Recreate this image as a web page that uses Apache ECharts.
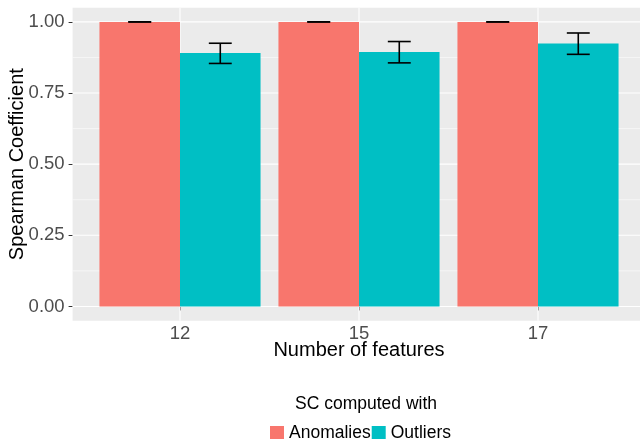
<!DOCTYPE html>
<html><head><meta charset="utf-8">
<script src="https://cdn.jsdelivr.net/npm/echarts@6/dist/echarts.min.js"></script>
<style>html,body{margin:0;padding:0;background:#fff}#c{width:640px;height:439px}</style>
</head><body><div id="c"></div>
<script>
// ---- data ----
const categories = ['12', '15', '17'];
const anomalies = [1.0, 1.0, 1.0];
const anomaliesLow = [1.0, 1.0, 1.0];
const anomaliesHigh = [1.0, 1.0, 1.0];
const outliers = [0.891, 0.894, 0.924];
const outliersLow = [0.854, 0.856, 0.886];
const outliersHigh = [0.925, 0.931, 0.961];
const yTicks = [0, 0.25, 0.5, 0.75, 1];
const yMinorTicks = [0.125, 0.375, 0.625, 0.875];
const seriesNames = ['Anomalies', 'Outliers'];
const legendTitle = 'SC computed with';
const xTitle = 'Number of features';
const yTitle = 'Spearman Coefficient';

// ---- layout / style ----
const X_MIN = 0.4, X_MAX = 3.6, Y_MIN = -0.05, Y_MAX = 1.05;
const DODGE = 0.45, CAP = 0.064;
const COLORS = ['#F8766D', '#00BFC4'];
const FONT = '"Liberation Sans", Arial, Helvetica, sans-serif';
const xPos = categories.map((c, i) => i + 1);

function barRender(side) {
  return function (params, api) {
    const x = api.value(0), y = api.value(1);
    const x0 = side < 0 ? x - DODGE : x;
    const x1 = side < 0 ? x : x + DODGE;
    const p0 = api.coord([x0, y]);
    const p1 = api.coord([x1, 0]);
    return {
      type: 'rect',
      shape: { x: p0[0], y: p0[1], width: p1[0] - p0[0], height: p1[1] - p0[1] },
      style: { fill: api.visual('color') }
    };
  };
}
function errRender(side) {
  return function (params, api) {
    const xc = api.value(0) + side * DODGE / 2;
    const lo = api.value(1), hi = api.value(2);
    const st = { stroke: '#000', lineWidth: 1.6 };
    const a = api.coord([xc - CAP, hi]), b = api.coord([xc + CAP, hi]);
    const c = api.coord([xc - CAP, lo]), d = api.coord([xc + CAP, lo]);
    const m0 = api.coord([xc, hi]), m1 = api.coord([xc, lo]);
    return {
      type: 'group',
      children: [
        { type: 'line', shape: { x1: m0[0], y1: m0[1], x2: m1[0], y2: m1[1] }, style: st },
        { type: 'line', shape: { x1: a[0], y1: a[1], x2: b[0], y2: b[1] }, style: st },
        { type: 'line', shape: { x1: c[0], y1: c[1], x2: d[0], y2: d[1] }, style: st }
      ]
    };
  };
}
function hLine(width) {
  return function (params, api) {
    const v = api.value(1);
    const p0 = api.coord([X_MIN, v]), p1 = api.coord([X_MAX, v]);
    return { type: 'line', shape: { x1: p0[0], y1: p0[1], x2: p1[0], y2: p1[1] }, style: { stroke: '#FFFFFF', lineWidth: width } };
  };
}
function vLine(width) {
  return function (params, api) {
    const x = api.value(0);
    const p0 = api.coord([x, Y_MIN]), p1 = api.coord([x, Y_MAX]);
    return { type: 'line', shape: { x1: p0[0], y1: p0[1], x2: p1[0], y2: p1[1] }, style: { stroke: '#FFFFFF', lineWidth: width } };
  };
}

const chart = echarts.init(document.getElementById('c'), null, { renderer: 'canvas' });
chart.setOption({
  animation: false,
  backgroundColor: '#FFFFFF',
  textStyle: { fontFamily: FONT },
  title: {
    text: legendTitle,
    left: 295, top: 395, padding: 0,
    textStyle: { fontSize: 17.5, fontWeight: 'normal', color: '#000', fontFamily: FONT }
  },
  legend: {
    data: seriesNames,
    left: 270, top: 424,
    icon: 'rect', itemWidth: 14, itemHeight: 14, itemGap: 1, padding: 0,
    textStyle: { fontSize: 17.5, color: '#000', fontFamily: FONT }
  },
  grid: {
    left: 72.6, right: -5.4, top: 7.67, bottom: 118.33,
    show: true, backgroundColor: '#EBEBEB', borderWidth: 0,
    containLabel: false, outerBoundsMode: 'none'
  },
  xAxis: {
    type: 'value', min: X_MIN, max: X_MAX,
    name: xTitle, nameLocation: 'middle', nameGap: 20, nameMoveOverlap: false,
    nameTextStyle: { fontSize: 20, color: '#000', fontFamily: FONT },
    axisLine: { show: false },
    axisTick: { show: true, customValues: xPos, length: 4, lineStyle: { color: '#333333', width: 1 } },
    axisLabel: {
      customValues: xPos, margin: 4, fontSize: 18.5, color: '#4D4D4D', fontFamily: FONT,
      formatter: v => categories[Math.round(v) - 1]
    },
    splitLine: { show: false }
  },
  yAxis: {
    type: 'value', min: Y_MIN, max: Y_MAX,
    name: yTitle, nameLocation: 'middle', nameGap: 45, nameMoveOverlap: false,
    nameTextStyle: { fontSize: 20, color: '#000', fontFamily: FONT },
    axisLine: { show: false },
    axisTick: { show: true, customValues: yTicks, length: 4, lineStyle: { color: '#333333', width: 1 } },
    axisLabel: {
      customValues: yTicks, margin: 8, fontSize: 18.5, color: '#4D4D4D', fontFamily: FONT,
      formatter: v => v.toFixed(2)
    },
    splitLine: { show: false }
  },
  series: [
    { type: 'custom', name: 'gridMinor', silent: true, z: 1, renderItem: hLine(0.55), data: yMinorTicks.map(v => [X_MIN, v]) },
    { type: 'custom', name: 'gridMajor', silent: true, z: 1, renderItem: hLine(1.1), data: yTicks.map(v => [X_MIN, v]) },
    { type: 'custom', name: 'gridX', silent: true, z: 1, renderItem: vLine(1.1), data: xPos.map(x => [x, Y_MIN]) },
    { type: 'custom', name: seriesNames[0], z: 2, itemStyle: { color: COLORS[0] }, renderItem: barRender(-1),
      data: xPos.map((x, i) => [x, anomalies[i]]) },
    { type: 'custom', name: seriesNames[1], z: 2, itemStyle: { color: COLORS[1] }, renderItem: barRender(1),
      data: xPos.map((x, i) => [x, outliers[i]]) },
    { type: 'custom', name: 'errA', silent: true, z: 3, renderItem: errRender(-1),
      data: xPos.map((x, i) => [x, anomaliesLow[i], anomaliesHigh[i]]) },
    { type: 'custom', name: 'errO', silent: true, z: 3, renderItem: errRender(1),
      data: xPos.map((x, i) => [x, outliersLow[i], outliersHigh[i]]) }
  ]
});
</script>
</body></html>
